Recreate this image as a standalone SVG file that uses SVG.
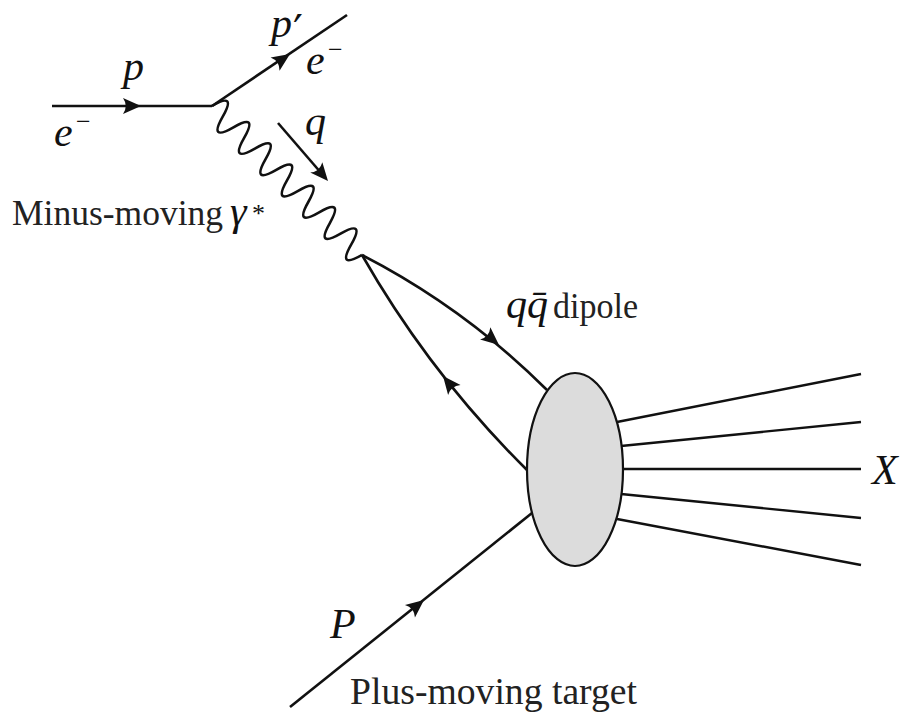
<svg xmlns="http://www.w3.org/2000/svg" width="907" height="713" viewBox="0 0 907 713">
<style>
.ln{fill:none;stroke:#111;stroke-width:2.6;stroke-linecap:butt}
.out{fill:none;stroke:#111;stroke-width:2.4}
.math{font-family:"Liberation Serif","Times New Roman",Tinos,serif;font-style:italic;font-size:42px;fill:#111}
.sup{font-family:"Liberation Serif","Times New Roman",Tinos,serif;font-size:26px;fill:#111}
.txt{font-family:"Liberation Serif","Times New Roman",Tinos,serif;fill:#222}
</style>
<defs>
<path id="ah" d="M0,0 L-18,-8 Q-12.5,0 -18,8 Z" fill="#111"/>
</defs>
<g id="connectors">
  <line id="e-in" class="ln" x1="52" y1="106" x2="212" y2="106"/>
  <use href="#ah" transform="translate(141,106)"/>
  <line id="e-out" class="ln" x1="212" y1="106" x2="347" y2="15"/>
  <use href="#ah" transform="translate(290,54) rotate(-34)"/>
  <path id="photon" class="ln" transform="translate(212,106) rotate(44.8)" d="M0,0 Q7.55,-28 15.1,0 T30.2,0 T45.3,0 T60.4,0 T75.5,0 T90.6,0 T105.7,0 T120.8,0 T135.9,0 T151,0 T166.1,0 T181.2,0 T196.3,0 T211.4,0"/>
  <line id="q-arrow" class="ln" x1="278" y1="123" x2="322" y2="174"/>
  <use href="#ah" transform="translate(328,181) rotate(49.3)"/>
  <path id="quark" class="ln" d="M362,255 Q465,308 547,390"/>
  <use href="#ah" transform="translate(499,345) rotate(40)"/>
  <path id="antiquark" class="ln" d="M362,255 Q430,374 527,470"/>
  <use href="#ah" transform="translate(443,376) rotate(-129)"/>
  <line id="target" class="ln" x1="290" y1="707" x2="532" y2="513"/>
  <use href="#ah" transform="translate(424,600) rotate(-38.7)"/>
  <line class="out" x1="617" y1="422" x2="861" y2="374"/>
  <line class="out" x1="621" y1="446" x2="861" y2="422"/>
  <line class="out" x1="622" y1="469" x2="861" y2="469"/>
  <line class="out" x1="621" y1="494" x2="861" y2="518"/>
  <line class="out" x1="617" y1="519" x2="861" y2="565"/>
</g>
<g id="blob">
  <ellipse cx="575" cy="469.5" rx="48" ry="96.5" fill="#dcdcdc" stroke="#111" stroke-width="2.2"/>
</g>
<g id="labels">
  <text class="math" x="54" y="146">e</text>
  <text class="sup" x="76" y="130">−</text>
  <text class="math" x="123" y="80">p</text>
  <text class="math" x="271" y="37">p</text>
  <text x="293" y="47" font-family="'DejaVu Serif',serif" font-size="44" fill="#111">′</text>
  <text class="math" x="306" y="74">e</text>
  <text class="sup" x="328" y="58">−</text>
  <text class="math" x="305" y="135">q</text>
  <text class="txt" x="12" y="225" font-size="36" textLength="211" lengthAdjust="spacingAndGlyphs">Minus-moving</text>
  <text class="math" x="230" y="225" font-size="38">γ</text>
  <text class="sup" x="252" y="222" font-size="24">*</text>
  <text class="math" x="506" y="318" font-size="34">qq̄</text>
  <text class="txt" x="553" y="318" font-size="35" textLength="85" lengthAdjust="spacingAndGlyphs">dipole</text>
  <text class="math" x="872" y="484">X</text>
  <text class="math" x="330" y="638">P</text>
  <text class="txt" x="350" y="704" font-size="37" textLength="287" lengthAdjust="spacingAndGlyphs">Plus-moving target</text>
</g>
</svg>
